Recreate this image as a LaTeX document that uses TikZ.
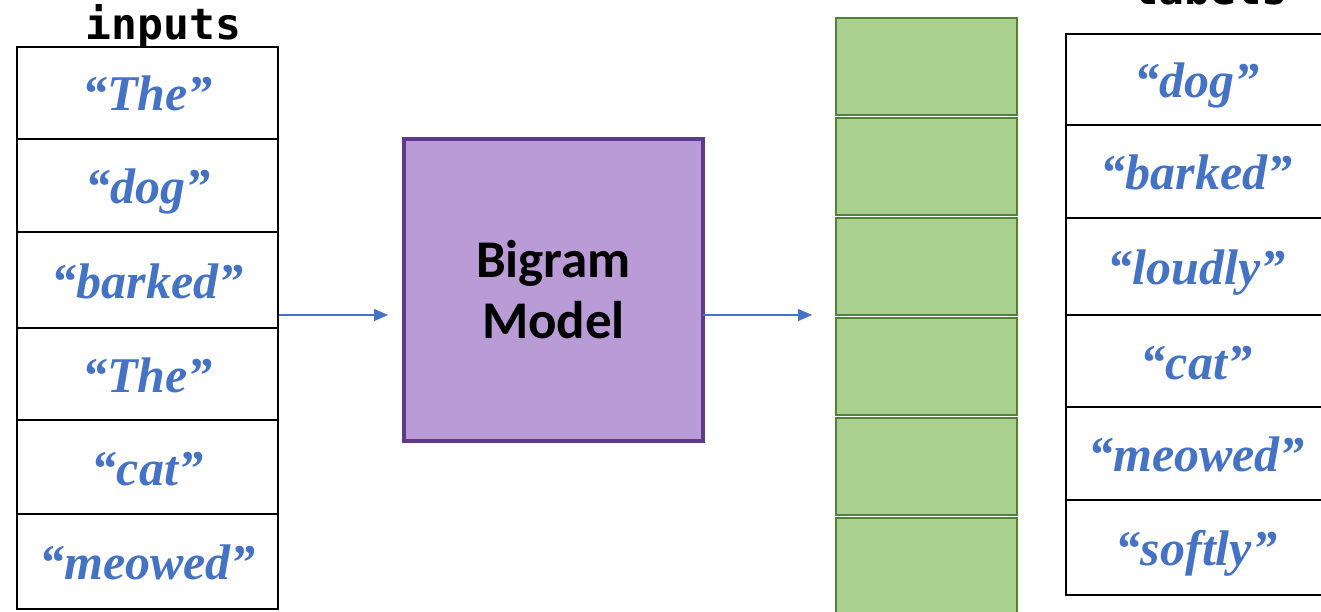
\documentclass[tikz,border=0pt]{standalone}
\usepackage{fontspec}
\setmainfont{Liberation Serif}
\newfontfamily\wordfont{Liberation Serif}
\newfontfamily\headfont{DejaVu Sans Mono}
\newfontfamily\calfont{Carlito}
\usetikzlibrary{arrows.meta}
\definecolor{wordblue}{HTML}{4472C4}
\definecolor{greenfill}{HTML}{A9D08E}
\definecolor{greenline}{HTML}{548235}
\definecolor{purplefill}{HTML}{B99CD5}
\definecolor{purpleline}{HTML}{5F3A8A}
\tikzset{
  cell/.style={draw=black, line width=2.6pt, fill=white, minimum width=261pt,
    inner sep=0pt, outer sep=0pt, text=wordblue,
    font=\wordfont\bfseries\itshape\fontsize{50}{58}\selectfont,
    text height=36pt, text depth=0pt},
  gcell/.style={draw=greenline, line width=2.6pt, fill=greenfill, minimum width=181pt,
    minimum height=97pt, inner sep=0pt, outer sep=0pt},
  head/.style={font=\headfont\bfseries\fontsize{43}{48}\selectfont, anchor=base, inner sep=0pt},
  flow/.style={draw=wordblue, line width=1.3pt, -{Triangle[length=14pt,width=12pt]}},
}
\begin{document}
\begin{tikzpicture}[x=1pt,y=-1pt]
\useasboundingbox (0,0) rectangle (1321,612);
\clip (0,0) rectangle (1321,612);
% inputs column
\node[head] (inhead) at (163.5,40) {inputs};
\node[cell, minimum height=92pt] (i1) at (147.5,93) {“The”};
\node[cell, minimum height=93pt] (i2) at (147.5,185.5) {“dog”};
\node[cell, minimum height=96pt] (i3) at (147.5,280) {“barked”};
\node[cell, minimum height=92pt] (i4) at (147.5,374) {“The”};
\node[cell, minimum height=94pt] (i5) at (147.5,467) {“cat”};
\node[cell, minimum height=95pt] (i6) at (147.5,561.5) {“meowed”};
% model
\node[draw=purpleline, fill=purplefill, line width=4pt, minimum width=299pt, minimum height=302pt,
  inner sep=0pt, outer sep=0pt, align=center, font=\calfont\bfseries\fontsize{53}{61}\selectfont]
  (model) at (553.5,290) {Bigram\\Model};
% green outputs
\node[gcell] (g1) at (926.5,66.5) {};
\node[gcell] (g2) at (926.5,166.5) {};
\node[gcell] (g3) at (926.5,266.5) {};
\node[gcell] (g4) at (926.5,366.5) {};
\node[gcell] (g5) at (926.5,466.5) {};
\node[gcell] (g6) at (926.5,566.5) {};
% labels column
\node[head] (labhead) at (1210,5) {labels};
\node[cell, minimum height=91pt] (l1) at (1196.5,79.5) {“dog”};
\node[cell, minimum height=93pt] (l2) at (1196.5,171.5) {“barked”};
\node[cell, minimum height=97pt] (l3) at (1196.5,266.5) {“loudly”};
\node[cell, minimum height=92pt] (l4) at (1196.5,361) {“cat”};
\node[cell, minimum height=93pt] (l5) at (1196.5,453.5) {“meowed”};
\node[cell, minimum height=95pt] (l6) at (1196.5,547.5) {“softly”};
% arrows
\coordinate (a1) at (279,315);
\draw[flow, shorten >=16pt] (a1) -- (a1 -| model.west);
\draw[flow, shorten >=24pt] (a1 -| model.east) -- (a1 -| g1.west);
\end{tikzpicture}
\end{document}
